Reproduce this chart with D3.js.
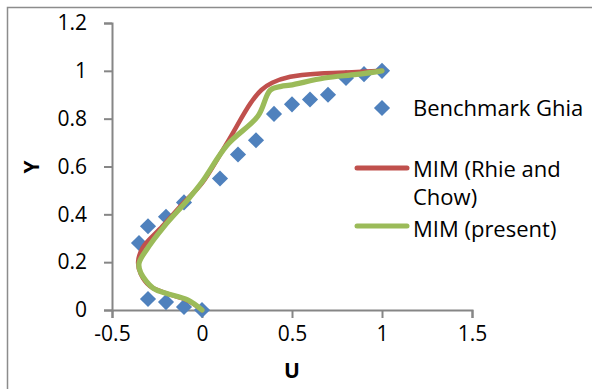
<!DOCTYPE html>
<html>
<head>
<meta charset="utf-8">
<script src="https://cdn.jsdelivr.net/npm/d3@7"></script>
<style>
  body { margin: 0; background: #fff; }
  svg text { font-family: "Open Sans", Lato, sans-serif; fill: #000; }
</style>
</head>
<body>
<svg id="chart" width="592" height="389"></svg>
<script>
// Benchmark Ghia points
var ghiaU = [1, 0.9, 0.8, 0.7, 0.6, 0.5, 0.4, 0.3, 0.2, 0.1, -0.1, -0.2, -0.3, -0.35, -0.3, -0.2, -0.1, 0];
var ghiaY = [1, 0.986, 0.97, 0.9, 0.88, 0.86, 0.82, 0.71, 0.65, 0.55, 0.45, 0.39, 0.35, 0.28, 0.046, 0.033, 0.013, 0];

// MIM (Rhie and Chow)
var rhieU = [0, -0.08, -0.2, -0.29, -0.34, -0.355, -0.33, -0.22, -0.1, 0.0, 0.14, 0.27, 0.33, 0.39, 0.49, 0.68, 0.86, 1];
var rhieY = [0, 0.04, 0.07, 0.1, 0.15, 0.2, 0.26, 0.35, 0.45, 0.53, 0.7, 0.865, 0.92, 0.95, 0.975, 0.99, 0.995, 1];

// MIM (present)
var presU = [0, -0.08, -0.2, -0.27, -0.34, -0.35, -0.31, -0.21, -0.08, 0.0, 0.14, 0.31, 0.38, 0.44, 0.49, 0.68, 0.86, 1];
var presY = [0, 0.042, 0.07, 0.09, 0.155, 0.195, 0.25, 0.35, 0.46, 0.535, 0.69, 0.81, 0.92, 0.935, 0.94, 0.97, 0.985, 1];

var xTicks = [-0.5, 0, 0.5, 1, 1.5];
var yTicks = [0, 0.2, 0.4, 0.6, 0.8, 1, 1.2];

var blue = "#4f81bd", red = "#c0504d", green = "#9bbb59", grey = "#868686";

var svg = d3.select("#chart");

// outer chart border
svg.append("rect")
  .attr("x", 7.5).attr("y", 7.5)
  .attr("width", 600).attr("height", 400)
  .attr("fill", "none")
  .attr("stroke", "#8c8c8c")
  .attr("stroke-width", 1.5);

var x = d3.scaleLinear().domain([-0.5, 1.5]).range([112, 472]);
var y = d3.scaleLinear().domain([0, 1.2]).range([310, 23]);

var fmt = d => String(d);   // plain hyphen minus like Excel

var xAxis = svg.append("g")
  .attr("transform", "translate(0," + y(0) + ")")
  .call(d3.axisBottom(x).tickValues(xTicks).tickSize(8).tickPadding(8).tickFormat(fmt));

var yAxis = svg.append("g")
  .attr("transform", "translate(" + x(-0.5) + ",0)")
  .call(d3.axisLeft(y).tickValues(yTicks).tickSize(8).tickPadding(17).tickFormat(fmt));

[xAxis, yAxis].forEach(function(a) {
  a.select(".domain").attr("stroke", grey).attr("stroke-width", 2);
  a.selectAll(".tick line").attr("stroke", grey).attr("stroke-width", 2);
  a.selectAll(".tick text").style("font-size", "21px").attr("fill", "#000");
});

// axis titles
svg.append("text")
  .attr("x", 292).attr("y", 378)
  .attr("text-anchor", "middle")
  .style("font-size", "21px").style("font-weight", "bold")
  .text("U");

svg.append("text")
  .attr("transform", "translate(39,167) rotate(-90)")
  .attr("text-anchor", "middle")
  .style("font-size", "21px").style("font-weight", "bold")
  .text("Y");

var diamond = d3.symbol().type(d3.symbolSquare).size(130);

// benchmark points
svg.append("g").selectAll("path")
  .data(d3.range(ghiaU.length))
  .join("path")
  .attr("d", diamond)
  .attr("transform", i => "translate(" + x(ghiaU[i]) + "," + y(ghiaY[i]) + ") rotate(45)")
  .attr("fill", blue);

var line = d3.line()
  .x(d => x(d[0]))
  .y(d => y(d[1]))
  .curve(d3.curveCatmullRom.alpha(0.5));

svg.append("path")
  .datum(d3.zip(rhieU, rhieY))
  .attr("d", line)
  .attr("fill", "none")
  .attr("stroke", red)
  .attr("stroke-width", 4.5)
  .attr("stroke-linecap", "round")
  .attr("stroke-linejoin", "round");

svg.append("path")
  .datum(d3.zip(presU, presY))
  .attr("d", line)
  .attr("fill", "none")
  .attr("stroke", green)
  .attr("stroke-width", 5.25)
  .attr("stroke-linecap", "round")
  .attr("stroke-linejoin", "round");

// legend
var legend = svg.append("g");

legend.append("path")
  .attr("d", diamond)
  .attr("transform", "translate(382,108) rotate(45)")
  .attr("fill", blue);
legend.append("text")
  .attr("x", 413).attr("y", 116)
  .style("font-size", "22px")
  .text("Benchmark Ghia");

legend.append("line")
  .attr("x1", 357).attr("x2", 407).attr("y1", 168).attr("y2", 168)
  .attr("stroke", red).attr("stroke-width", 5).attr("stroke-linecap", "round");
legend.append("text")
  .attr("x", 413).attr("y", 177)
  .style("font-size", "22px")
  .text("MIM (Rhie and");
legend.append("text")
  .attr("x", 413).attr("y", 205)
  .style("font-size", "22px")
  .text("Chow)");

legend.append("line")
  .attr("x1", 357).attr("x2", 407).attr("y1", 226).attr("y2", 226)
  .attr("stroke", green).attr("stroke-width", 5).attr("stroke-linecap", "round");
legend.append("text")
  .attr("x", 413).attr("y", 237)
  .style("font-size", "22px")
  .text("MIM (present)");
</script>
</body>
</html>
